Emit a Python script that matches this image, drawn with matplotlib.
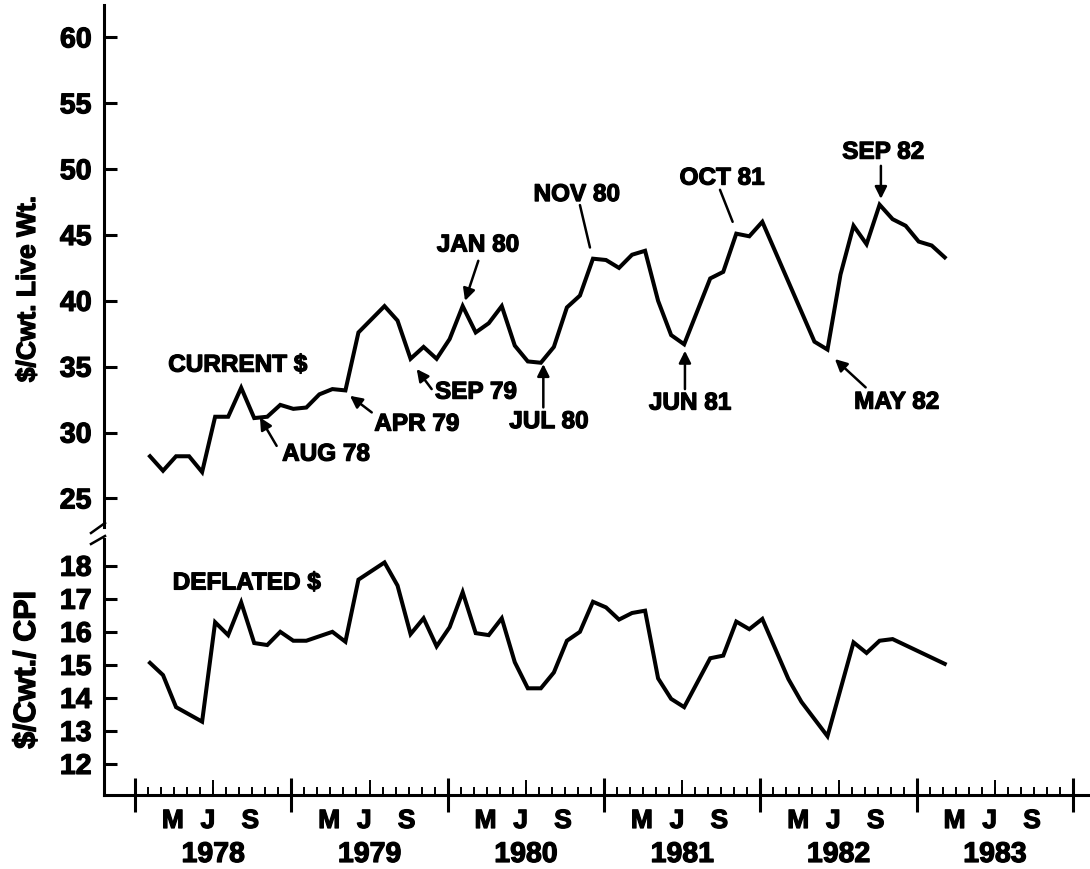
import numpy as np
import matplotlib
matplotlib.use("Agg")
import matplotlib.pyplot as plt
import matplotlib.patheffects as pe
from matplotlib.lines import Line2D

# ============================================================
# DATA  (months counted from Jan 1978 = 0)
# ============================================================
cur_month = [0, 1, 2, 3, 4, 5, 6, 7, 8, 9, 10, 11, 12, 13, 14, 15, 16,
             18, 19, 20, 21, 22, 23, 24, 25, 26, 27, 28, 29, 30, 31, 32, 33,
             34, 35, 36, 37, 38, 39, 40, 41, 43, 44, 45, 46, 47,
             51, 52, 53, 54, 55, 56, 57, 58, 59, 60, 61]
cur_value = [28.2, 27.1, 28.2, 28.2, 27.0, 31.2, 31.2, 33.4, 31.1, 31.2,
             32.1, 31.8, 31.9, 32.9, 33.3, 33.2, 37.6,
             39.6, 38.5, 35.6, 36.5, 35.6, 37.1, 39.6, 37.6, 38.3, 39.6,
             36.6, 35.4, 35.3, 36.5, 39.5, 40.4, 43.2, 43.1, 42.5, 43.5,
             43.8, 40.0, 37.4, 36.7, 41.7, 42.2, 45.1, 44.9, 46.0,
             36.9, 36.3, 42.0, 45.7, 44.3, 47.3, 46.2, 45.7, 44.5, 44.2, 43.3]

def_month = [0, 1, 2, 4, 5, 6, 7, 8, 9, 10, 11, 12, 14, 15, 16,
             18, 19, 20, 21, 22, 23, 24, 25, 26, 27, 28, 29, 30, 31, 32,
             33, 34, 35, 36, 37, 38, 39, 40, 41, 43, 44, 45, 46, 47,
             49, 50, 52, 54, 55, 56, 57, 61]
def_value = [15.06, 14.69, 13.72, 13.28, 16.29, 15.90, 16.89, 15.66, 15.60,
             16.00, 15.73, 15.73, 16.00, 15.70, 17.58,
             18.10, 17.40, 15.93, 16.41, 15.56, 16.14, 17.20, 15.96, 15.90,
             16.41, 15.08, 14.29, 14.29, 14.77, 15.73, 16.00, 16.91, 16.74,
             16.37, 16.57, 16.64, 14.59, 13.97, 13.72, 15.20, 15.28, 16.31,
             16.08, 16.39, 14.57, 13.88, 12.84, 15.68, 15.36, 15.73, 15.78,
             15.03]

years = [1978, 1979, 1980, 1981, 1982, 1983]
month_letters = ["M", "J", "S"]
month_letter_pos = [2.9, 5.6, 8.85]

# (label, text x, text y, arrow tail, arrow tip, has head)
notes = [
    ("AUG 78", 14.66, 28.36, (10.87, 28.99), (9.59, 31.15), True),
    ("APR 79", 21.62, 30.64, (18.17, 31.53), (16.5, 32.79), True),
    ("SEP 79", 26.17, 33.07, (22.77, 33.30), (21.62, 34.82), True),
    ("JAN 80", 26.32, 44.24, (26.35, 43.04), (25.33, 40.0), True),
    ("NOV 80", 33.9, 48.07, (34.15, 47.27), (34.92, 44.05), False),
    ("JUL 80", 31.77, 30.83, (31.34, 31.91), (31.34, 35.2), True),
    ("JUN 81", 42.6, 32.24, (42.21, 33.3), (42.21, 36.21), True),
    ("OCT 81", 45.05, 49.32, (44.9, 48.43), (45.87, 46.0), False),
    ("SEP 82", 57.43, 51.29, (57.25, 50.25), (57.25, 47.74), True),
    ("MAY 82", 58.46, 32.31, (56.08, 33.43), (53.72, 35.58), True),
]

# ============================================================
# STYLE
# ============================================================
plt.rcParams['font.family'] = 'Liberation Sans'
plt.rcParams['font.weight'] = 'bold'

W, H = 1090, 870
X_OFFSET = 1.15
LW_AX = 2.2
HEAVY = [pe.withStroke(linewidth=0.9, foreground='black')]


def fx(px):
    return px / W


def fy(py):
    return 1 - py / H


fig = plt.figure(figsize=(W / 100, H / 100), dpi=100, facecolor='white')
ax_top = fig.add_axes([fx(104), fy(528), 1 - fx(104), fy(6) - fy(528)])
ax_bot = fig.add_axes([fx(104), fy(796), 1 - fx(104), fy(540) - fy(796)])

# ---- top panel: current dollars
ax_top.plot(np.array(cur_month) + X_OFFSET, cur_value, color='black', lw=2.9,
            solid_joinstyle='miter')
ax_top.set_xlim(-2.38, 73.3)
ax_top.set_ylim(22.83, 62.46)
for s in ['top', 'right', 'bottom']:
    ax_top.spines[s].set_visible(False)
ax_top.spines['left'].set_linewidth(LW_AX)
ax_top.set_xticks([])
ax_top.set_yticks(range(25, 61, 5))
ax_top.tick_params(axis='y', direction='in', length=9.4, width=LW_AX, pad=9,
                   labelsize=20.5)

ax_top.text(7.87, 35.12, "CURRENT $", ha='center', va='center', fontsize=17.5,
            path_effects=HEAVY)
for label, tx, ty, tail, tip, head in notes:
    ax_top.text(tx, ty, label, ha='center', va='center', fontsize=17.5,
                path_effects=HEAVY)
    ax_top.annotate('', xy=tip, xytext=tail,
                    arrowprops=dict(arrowstyle='-|>' if head else '-',
                                    color='black', lw=1.8, mutation_scale=18,
                                    shrinkA=0, shrinkB=0))

# ---- bottom panel: deflated dollars
ax_bot.plot(np.array(def_month) + X_OFFSET, def_value, color='black', lw=2.9,
            solid_joinstyle='miter')
ax_bot.set_xlim(-2.38, 73.3)
ax_bot.set_ylim(11.06, 18.81)
for s in ['top', 'right']:
    ax_bot.spines[s].set_visible(False)
ax_bot.spines['left'].set_linewidth(LW_AX)
ax_bot.spines['bottom'].set_linewidth(LW_AX)
ax_bot.set_yticks(range(12, 19))
ax_bot.tick_params(axis='y', direction='in', length=9.4, width=LW_AX, pad=9,
                   labelsize=20.5)

year_ticks = [12 * k for k in range(len(years) + 1)]
month_ticks = [m for m in range(12 * len(years)) if m % 12 != 0]
ax_bot.set_xticks(year_ticks)
ax_bot.set_xticks(month_ticks, minor=True)
ax_bot.tick_params(axis='x', which='major', direction='inout', length=24.5,
                   width=LW_AX, labelbottom=False)
ax_bot.tick_params(axis='x', which='minor', direction='in', length=5.8,
                   width=1.4, labelbottom=False)
# taller mid-year ticks
ax_bot.vlines([12 * k + 6 for k in range(len(years))], 0, 15 / 256,
              transform=ax_bot.get_xaxis_transform(), color='black', lw=1.4)

ax_bot.text(8.57, 17.48, "DEFLATED $", ha='center', va='center', fontsize=17.5,
            path_effects=HEAVY)

xt = ax_bot.get_xaxis_transform()
for k, yr in enumerate(years):
    for letter, pos in zip(month_letters, month_letter_pos):
        ax_bot.text(12 * k + pos, -26 / 256, letter, transform=xt,
                    ha='center', va='center', fontsize=19, path_effects=HEAVY)
    ax_bot.text(12 * k + 6, -60 / 256, str(yr), transform=xt,
                ha='center', va='center', fontsize=20.5, path_effects=HEAVY)

for ax in (ax_top, ax_bot):
    for t in ax.get_yticklabels():
        t.set_path_effects(HEAVY)

# axis labels
fig.text(fx(28), fy(290), "$/Cwt. Live Wt.", rotation=90, ha='center',
         va='center', fontsize=19, path_effects=HEAVY)
fig.text(fx(27), fy(671), "$/Cwt./ CPI", rotation=90, ha='center',
         va='center', fontsize=22, path_effects=HEAVY)

# axis break marks
for (x0, y0), (x1, y1) in [((91, 534), (105, 524)), ((91, 545), (105, 537))]:
    fig.add_artist(Line2D([fx(x0), fx(x1)], [fy(y0), fy(y1)],
                          transform=fig.transFigure, color='black', lw=1.8))

fig.savefig("out.png", dpi=100, facecolor='white')
